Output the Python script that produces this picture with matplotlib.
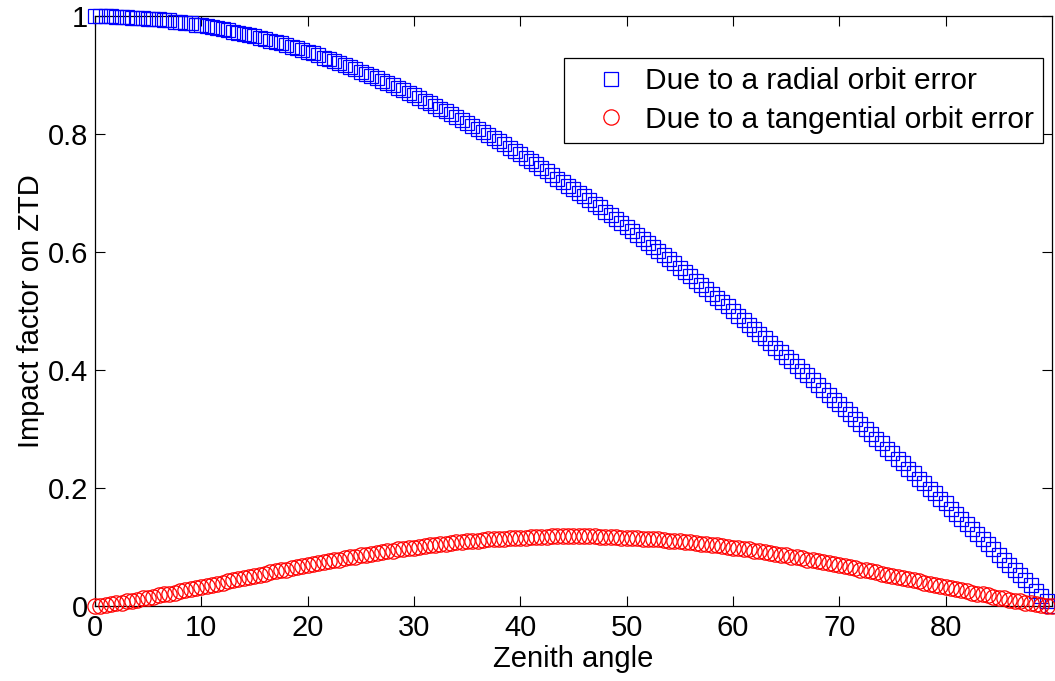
import numpy as np
import matplotlib
matplotlib.use("Agg")
import matplotlib.pyplot as plt
from matplotlib.lines import Line2D

# data ------------------------------------------------------------------------ data

zenith = np.arange(0, 90.5, 0.5)   # zenith angle, 0.5 deg steps

radial = [
    1.000, 1.000, 1.000, 1.000, 0.999, 0.999, 0.999, 0.998, 0.998, 0.997,
    0.996, 0.995, 0.995, 0.994, 0.993, 0.991, 0.990, 0.989, 0.988, 0.986,
    0.985, 0.983, 0.982, 0.980, 0.978, 0.976, 0.974, 0.972, 0.970, 0.968,
    0.966, 0.964, 0.961, 0.959, 0.956, 0.954, 0.951, 0.948, 0.946, 0.943,
    0.940, 0.937, 0.934, 0.930, 0.927, 0.924, 0.921, 0.917, 0.914, 0.910,
    0.906, 0.903, 0.899, 0.895, 0.891, 0.887, 0.883, 0.879, 0.875, 0.870,
    0.866, 0.862, 0.857, 0.853, 0.848, 0.843, 0.839, 0.834, 0.829, 0.824,
    0.819, 0.814, 0.809, 0.804, 0.799, 0.793, 0.788, 0.783, 0.777, 0.772,
    0.766, 0.760, 0.755, 0.749, 0.743, 0.737, 0.731, 0.725, 0.719, 0.713,
    0.707, 0.701, 0.695, 0.688, 0.682, 0.676, 0.669, 0.663, 0.656, 0.649,
    0.643, 0.636, 0.629, 0.623, 0.616, 0.609, 0.602, 0.595, 0.588, 0.581,
    0.574, 0.566, 0.559, 0.552, 0.545, 0.537, 0.530, 0.522, 0.515, 0.508,
    0.500, 0.492, 0.485, 0.477, 0.469, 0.462, 0.454, 0.446, 0.438, 0.431,
    0.423, 0.415, 0.407, 0.399, 0.391, 0.383, 0.375, 0.367, 0.358, 0.350,
    0.342, 0.334, 0.326, 0.317, 0.309, 0.301, 0.292, 0.284, 0.276, 0.267,
    0.259, 0.250, 0.242, 0.233, 0.225, 0.216, 0.208, 0.199, 0.191, 0.182,
    0.174, 0.165, 0.156, 0.148, 0.139, 0.131, 0.122, 0.113, 0.105, 0.096,
    0.087, 0.078, 0.070, 0.061, 0.052, 0.044, 0.035, 0.026, 0.017, 0.009,
    0.000,
]

tangential = [
    0.000, 0.001, 0.002, 0.003, 0.005, 0.006, 0.008, 0.009, 0.011, 0.013,
    0.014, 0.016, 0.018, 0.020, 0.021, 0.023, 0.025, 0.027, 0.029, 0.031,
    0.033, 0.034, 0.036, 0.038, 0.040, 0.042, 0.044, 0.046, 0.048, 0.049,
    0.051, 0.053, 0.055, 0.057, 0.059, 0.061, 0.062, 0.064, 0.066, 0.068,
    0.069, 0.071, 0.073, 0.075, 0.076, 0.078, 0.079, 0.081, 0.083, 0.084,
    0.086, 0.087, 0.089, 0.090, 0.092, 0.093, 0.094, 0.096, 0.097, 0.098,
    0.099, 0.101, 0.102, 0.103, 0.104, 0.105, 0.106, 0.107, 0.108, 0.109,
    0.110, 0.110, 0.111, 0.112, 0.113, 0.113, 0.114, 0.114, 0.115, 0.115,
    0.116, 0.116, 0.117, 0.117, 0.117, 0.117, 0.118, 0.118, 0.118, 0.118,
    0.118,
    0.118, 0.118, 0.118, 0.118, 0.117, 0.117, 0.117, 0.117, 0.116, 0.116,
    0.115, 0.115, 0.114, 0.114, 0.113, 0.113, 0.112, 0.111, 0.110, 0.110,
    0.109, 0.108, 0.107, 0.106, 0.105, 0.104, 0.103, 0.102, 0.101, 0.099,
    0.098, 0.097, 0.096, 0.094, 0.093, 0.092, 0.090, 0.089, 0.087, 0.086,
    0.084, 0.083, 0.081, 0.079, 0.078, 0.076, 0.075, 0.073, 0.071, 0.069,
    0.068, 0.066, 0.064, 0.062, 0.061, 0.059, 0.057, 0.055, 0.053, 0.051,
    0.049, 0.048, 0.046, 0.044, 0.042, 0.040, 0.038, 0.036, 0.034, 0.033,
    0.031, 0.029, 0.027, 0.025, 0.023, 0.021, 0.020, 0.018, 0.016, 0.014,
    0.013, 0.011, 0.009, 0.008, 0.006, 0.005, 0.003, 0.002, 0.001, 0.000,
]

x_ticks = [0, 10, 20, 30, 40, 50, 60, 70, 80]
y_ticks = [0, 0.2, 0.4, 0.6, 0.8, 1.0]
y_tick_labels = ["0", "0.2", "0.4", "0.6", "0.8", "1"]

labels = ["Due to a radial orbit error", "Due to a tangential orbit error"]

# plot ------------------------------------------------------------------------ plot

plt.rcParams['font.family'] = ['Liberation Sans', 'DejaVu Sans']
FS = 21

fig = plt.figure(figsize=(10.55, 6.81), dpi=100)
ax = fig.add_axes([0.090, 0.110, 0.907, 0.866])

ax.plot(zenith, radial, ls='none', marker='s', ms=9.5, mfc='none',
        mec=(0, 0, 1), mew=0.9, clip_on=False, zorder=3)
ax.plot(zenith, tangential, ls='none', marker='o', ms=11, mfc='none',
        mec=(1, 0, 0), mew=0.9, clip_on=False, zorder=4)

ax.set_xlim(0, 90)
ax.set_ylim(0, 1)
ax.set_xticks(x_ticks)
ax.set_yticks(y_ticks)
ax.set_yticklabels(y_tick_labels)
ax.tick_params(direction='in', length=7, width=0.8, labelsize=FS,
               top=True, right=True, color='black')
ax.tick_params(axis='x', pad=6)
ax.tick_params(axis='y', pad=5)
for sp in ax.spines.values():
    sp.set_linewidth(0.9)

ax.set_xlabel("Zenith angle", fontsize=FS, labelpad=2)
ax.set_ylabel("Impact factor on ZTD", fontsize=FS, labelpad=2)

handles = [
    Line2D([], [], ls='none', marker='s', ms=9.5, mfc='none', mec=(0, 0, 1), mew=0.9),
    Line2D([], [], ls='none', marker='o', ms=11, mfc='none', mec=(1, 0, 0), mew=0.9),
]
leg = ax.legend(handles, labels, loc='upper right', bbox_to_anchor=(0.9906, 0.929),
                borderaxespad=0, fontsize=21.5, frameon=True, fancybox=False,
                framealpha=1, edgecolor='black', borderpad=0.3,
                handlelength=2.5, handletextpad=-0.1, labelspacing=0.36)
leg.get_frame().set_linewidth(0.9)

fig.savefig("out.png", dpi=100)
